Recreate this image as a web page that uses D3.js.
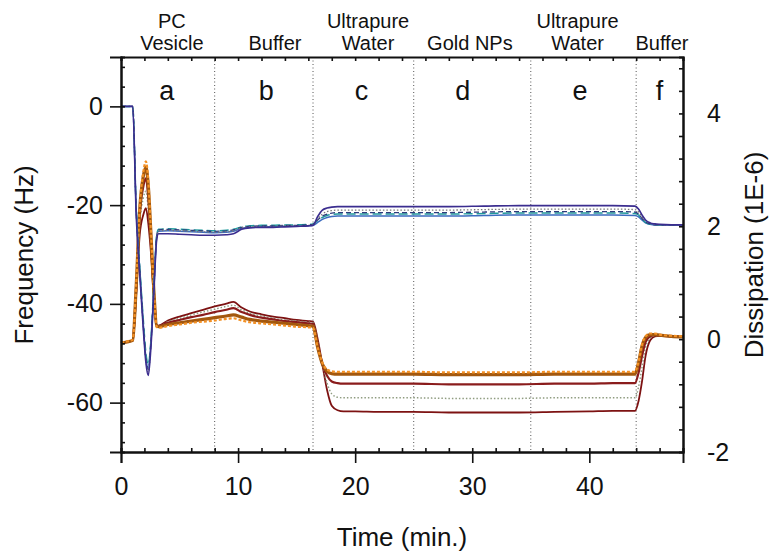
<!DOCTYPE html>
<html>
<head>
<meta charset="utf-8">
<script src="https://cdn.jsdelivr.net/npm/d3@7"></script>
<style>
  body { margin: 0; background: #fff; }
  svg text { font-family: "Liberation Sans", Arial, sans-serif; fill: #111; }
</style>
</head>
<body>
<div class="container"></div>
<script>

// time (min.) shared by every trace
const time = [0, 0.5, 1.0, 1.3, 1.6, 1.9, 2.13, 2.33, 2.55, 2.8, 3.05, 3.2, 4, 5, 6, 7, 8, 9, 9.6, 10.3, 11, 12, 13, 14, 15, 16.0, 16.4, 16.8, 17.2, 17.6, 18.0, 18.5, 19, 20, 22, 25, 28, 31, 34, 37, 40, 42, 43.9, 44.2, 44.5, 44.8, 45.2, 45.6, 46, 47, 48]

// frequency (Hz), left axis
const freqA = [0, 0, 0, -22, -34, -45, -52, -54.5, -49, -38, -27, -25.8, -25.8, -25.9, -26.0, -26.1, -26.1, -26.0, -25.8, -24.9, -24.6, -24.5, -24.5, -24.4, -24.3, -24.2, -24.1, -22.3, -21.0, -20.6, -20.4, -20.3, -20.3, -20.3, -20.3, -20.3, -20.3, -20.2, -20.1, -20.1, -20.1, -20.1, -20.2, -20.8, -22.0, -23.0, -23.6, -23.8, -23.9, -24.0, -24.0]
const freqB = [0, 0, 0, -21.5, -33.5, -44.5, -51.5, -53.8, -48.5, -37.5, -26.5, -25.2, -25.1, -25.2, -25.3, -25.4, -25.5, -25.4, -25.2, -24.6, -24.4, -24.3, -24.3, -24.2, -24.2, -24.1, -24.0, -22.8, -21.8, -21.3, -21.1, -21.0, -21.0, -21.0, -21.0, -21.0, -21.0, -20.9, -20.8, -20.8, -20.8, -20.8, -20.9, -21.4, -22.4, -23.2, -23.7, -23.9, -24.0, -24.0, -24.0]
const freqC = [0, 0, 0, -21, -33, -44, -51, -53.3, -48, -37, -26.3, -25.0, -24.9, -25.0, -25.1, -25.2, -25.3, -25.2, -25.0, -24.5, -24.3, -24.2, -24.2, -24.1, -24.1, -24.0, -23.9, -23.0, -22.2, -21.8, -21.6, -21.5, -21.5, -21.5, -21.5, -21.5, -21.5, -21.4, -21.3, -21.3, -21.3, -21.3, -21.4, -21.8, -22.7, -23.4, -23.8, -24.0, -24.0, -24.0, -24.0]
const freqD = [0, 0, 0, -20.5, -32.5, -43, -50, -52.3, -47.5, -36.5, -26, -24.9, -24.8, -24.9, -25.0, -25.1, -25.2, -25.1, -24.9, -24.4, -24.2, -24.1, -24.1, -24.0, -24.0, -23.9, -23.8, -23.1, -22.5, -22.1, -21.9, -21.8, -21.8, -21.8, -21.8, -21.8, -21.8, -21.7, -21.6, -21.6, -21.6, -21.6, -21.7, -22.0, -22.8, -23.5, -23.9, -24.0, -24.0, -24.0, -24.0]
const freqE = [0, 0, 0, -21, -33, -44, -51, -53, -48, -37.5, -26.5, -25.3, -25.2, -25.3, -25.4, -25.5, -25.6, -25.5, -25.3, -24.7, -24.5, -24.4, -24.4, -24.3, -24.3, -24.2, -24.1, -23.5, -22.9, -22.5, -22.3, -22.2, -22.2, -22.2, -22.2, -22.2, -22.2, -22.1, -22.0, -22.0, -22.0, -22.0, -22.1, -22.4, -23.0, -23.6, -23.9, -24.0, -24.0, -24.0, -24.0]

// dissipation (1E-6), right axis
const dissA = [-0.06, -0.04, -0.01, 1.0, 2.35, 2.95, 3.15, 2.8, 1.95, 0.9, 0.22, 0.2, 0.23, 0.26, 0.29, 0.31, 0.33, 0.36, 0.37, 0.33, 0.3, 0.28, 0.26, 0.24, 0.22, 0.21, 0.2, -0.15, -0.42, -0.54, -0.57, -0.58, -0.58, -0.58, -0.58, -0.58, -0.59, -0.59, -0.59, -0.58, -0.58, -0.58, -0.58, -0.4, -0.1, 0.05, 0.1, 0.1, 0.08, 0.06, 0.05]
const dissB = [-0.07, -0.05, -0.02, 0.95, 2.3, 2.88, 3.05, 2.72, 1.9, 0.88, 0.23, 0.22, 0.26, 0.29, 0.32, 0.35, 0.38, 0.41, 0.43, 0.39, 0.35, 0.32, 0.30, 0.28, 0.26, 0.24, 0.23, -0.15, -0.44, -0.57, -0.61, -0.62, -0.62, -0.62, -0.62, -0.62, -0.63, -0.63, -0.63, -0.62, -0.62, -0.62, -0.62, -0.42, -0.12, 0.03, 0.08, 0.08, 0.07, 0.05, 0.04]
const dissC = [-0.07, -0.05, -0.02, 0.9, 2.2, 2.7, 2.85, 2.5, 1.8, 0.85, 0.24, 0.23, 0.29, 0.34, 0.39, 0.43, 0.48, 0.52, 0.55, 0.48, 0.43, 0.38, 0.35, 0.32, 0.30, 0.28, 0.27, -0.1, -0.45, -0.65, -0.75, -0.78, -0.79, -0.79, -0.79, -0.79, -0.8, -0.8, -0.8, -0.79, -0.79, -0.78, -0.78, -0.6, -0.3, -0.05, 0.05, 0.07, 0.06, 0.05, 0.04]
const dissD = [-0.07, -0.05, -0.02, 0.85, 2.05, 2.5, 2.62, 2.3, 1.7, 0.8, 0.24, 0.23, 0.31, 0.37, 0.43, 0.48, 0.53, 0.58, 0.6, 0.52, 0.46, 0.41, 0.37, 0.34, 0.32, 0.30, 0.29, -0.05, -0.45, -0.78, -0.97, -1.03, -1.04, -1.04, -1.04, -1.04, -1.05, -1.05, -1.05, -1.04, -1.04, -1.04, -1.04, -0.85, -0.5, -0.15, 0.02, 0.06, 0.06, 0.05, 0.04]
const dissE = [-0.07, -0.05, -0.02, 0.8, 1.85, 2.2, 2.32, 2.05, 1.55, 0.75, 0.25, 0.24, 0.33, 0.40, 0.46, 0.52, 0.58, 0.63, 0.66, 0.56, 0.49, 0.44, 0.40, 0.37, 0.34, 0.32, 0.31, 0.0, -0.45, -0.9, -1.18, -1.26, -1.28, -1.28, -1.29, -1.29, -1.3, -1.3, -1.3, -1.29, -1.28, -1.27, -1.27, -1.1, -0.75, -0.3, -0.02, 0.05, 0.06, 0.05, 0.04]

// solution changes
const switchTimes = [8, 16.4, 25, 35, 44]
const stepLetters = ["a", "b", "c", "d", "e", "f"]
const letterTimes = [3.9, 12.4, 20.55, 29.2, 39.2, 46.0]
const stepNames = [["PC", "Vesicle"], ["Buffer"], ["Ultrapure", "Water"], ["Gold NPs"], ["Ultrapure", "Water"], ["Buffer"]]
const nameTimes = [4.35, 13.15, 21.1, 29.8, 39.0, 46.2]

const xTicks = [0, 10, 20, 30, 40]
const freqTicks = [-60, -40, -20, 0]
const dissTicks = [-2, 0, 2, 4]

const width = 771
const height = 552

const x = d3.scaleLinear().domain([0, 48]).range([121, 683])
const yF = d3.scaleLinear().domain([-70, 10]).range([452, 57])
const yD = d3.scaleLinear().domain([-2, 5]).range([452, 57])

const svg = d3.select(".container").append("svg")
    .attr("width", width)
    .attr("height", height)

// dotted separators
svg.selectAll(".sep")
    .data(switchTimes)
    .enter()
    .append("line")
    .attr("class", "sep")
    .attr("x1", d => x(d)).attr("x2", d => x(d))
    .attr("y1", 57).attr("y2", 452)
    .attr("stroke", "#555")
    .attr("stroke-width", 1)
    .attr("stroke-dasharray", "1,2.5")

const dissTraces = [
    { v: dissE, color: "#7d1212", w: 1.8, dash: null },
    { v: dissD, color: "#8f9c80", w: 1.5, dash: "1.5,2" },
    { v: dissC, color: "#8a1c1c", w: 2.2, dash: null },
    { v: dissB, color: "#a3580e", w: 3.2, dash: null },
    { v: dissA, color: "#f39126", w: 2.2, dash: "3,2" }
]
const freqTraces = [
    { v: freqE, color: "#3c6cbf", w: 1.5, dash: null },
    { v: freqD, color: "#1f9a9c", w: 1.5, dash: "9,4" },
    { v: freqC, color: "#2d3b7c", w: 1.3, dash: "5,3" },
    { v: freqB, color: "#777", w: 1.3, dash: "1.5,2" },
    { v: freqA, color: "#3b2d8f", w: 1.6, dash: null }
]

const lineD = d3.line().x((d, i) => x(time[i])).y(d => yD(d)).curve(d3.curveMonotoneX)
const lineF = d3.line().x((d, i) => x(time[i])).y(d => yF(d)).curve(d3.curveMonotoneX)

function drawTraces(list, gen){
    svg.append("g")
        .selectAll("path")
        .data(list)
        .enter()
        .append("path")
        .attr("d", d => gen(d.v))
        .attr("fill", "none")
        .attr("stroke", d => d.color)
        .attr("stroke-width", d => d.w)
        .attr("stroke-dasharray", d => d.dash)
}
drawTraces(dissTraces, lineD)
drawTraces(freqTraces, lineF)

// axes - majors outward, minors inward, each in its own group
const num = d => String(d)
const minorX = d3.range(0, 48.1, 2)

function axisGroup(tx, ty, axis){
    return svg.append("g").attr("transform", `translate(${tx},${ty})`).call(axis)
}
axisGroup(0, 452, d3.axisBottom(x).tickValues(xTicks).tickSize(11).tickPadding(14).tickFormat(num))
axisGroup(0, 452, d3.axisTop(x).tickValues(minorX).tickSize(4).tickFormat(""))
axisGroup(0, 57, d3.axisBottom(x).tickValues(minorX).tickSize(4).tickFormat(""))
axisGroup(121, 0, d3.axisLeft(yF).tickValues(freqTicks).tickSize(11).tickPadding(7).tickFormat(num))
axisGroup(121, 0, d3.axisRight(yF).tickValues(d3.range(-68, 10, 4)).tickSize(4).tickFormat(""))
axisGroup(683, 0, d3.axisLeft(yD).tickValues(d3.range(-1.6, 4.9, 0.4)).tickSize(4).tickFormat(""))
axisGroup(683, 0, d3.axisRight(yD).tickValues(dissTicks).tickSize(0).tickPadding(24).tickFormat(num))

svg.selectAll(".domain").attr("stroke", "#111").attr("stroke-width", 2)
svg.selectAll(".tick line").attr("stroke", "#111").attr("stroke-width", 1.6)
svg.selectAll(".tick text").style("font-size", "25px").attr("font-family", null).attr("fill", "#111")

// step letters and solution names
svg.selectAll(".letter")
    .data(stepLetters)
    .enter()
    .append("text")
    .attr("x", (d, i) => x(letterTimes[i]))
    .attr("y", 100)
    .attr("text-anchor", "middle")
    .style("font-size", "27px")
    .text(d => d)

stepNames.forEach((lines, i) => {
    lines.forEach((s, j) => {
        svg.append("text")
            .attr("x", x(nameTimes[i]))
            .attr("y", 50 - (lines.length - 1 - j) * 22)
            .attr("text-anchor", "middle")
            .style("font-size", "20px")
            .text(s)
    })
})

// axis titles
svg.append("text")
    .attr("x", 402).attr("y", 546)
    .attr("text-anchor", "middle")
    .style("font-size", "26px")
    .text("Time (min.)")

svg.append("text")
    .attr("transform", "translate(33,255) rotate(-90)")
    .attr("text-anchor", "middle")
    .style("font-size", "26px")
    .text("Frequency (Hz)")

svg.append("text")
    .attr("transform", "translate(763,255) rotate(-90)")
    .attr("text-anchor", "middle")
    .style("font-size", "26px")
    .text("Dissipation (1E-6)")

</script>
</body>
</html>
